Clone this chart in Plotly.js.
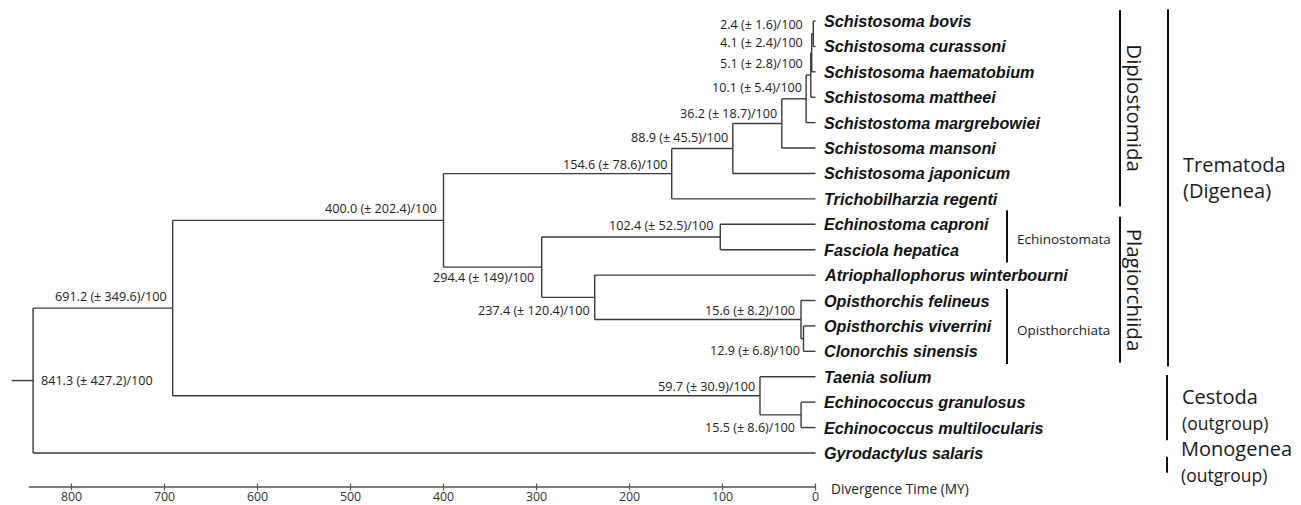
<!DOCTYPE html>
<html>
<head>
<meta charset="utf-8">
<script src="https://cdn.plot.ly/plotly-3.0.1.min.js"></script>
<style>html,body{margin:0;padding:0;background:#fff;}#chart{width:1301px;height:505px;}</style>
</head>
<body>
<div id="chart"></div>
<script>
// ---------------- DATA ----------------
const tips = [
  "Schistosoma bovis", "Schistosoma curassoni", "Schistosoma haematobium", "Schistosoma mattheei",
  "Schistostoma margrebowiei", "Schistosoma mansoni", "Schistosoma japonicum", "Trichobilharzia regenti",
  "Echinostoma caproni", "Fasciola hepatica", "Atriophallophorus winterbourni",
  "Opisthorchis felineus", "Opisthorchis viverrini", "Clonorchis sinensis",
  "Taenia solium", "Echinococcus granulosus", "Echinococcus multilocularis", "Gyrodactylus salaris"
];
// internal nodes: divergence time (MY), ± error, support, children ("t#" tip, "n#" node)
const nodeAge     = [2.4, 4.1, 5.1, 10.1, 36.2, 88.9, 154.6, 102.4, 12.9, 15.6, 237.4, 294.4, 400.0, 15.5, 59.7, 691.2, 841.3];
const nodeErr     = [1.6, 2.4, 2.8, 5.4, 18.7, 45.5, 78.6, 52.5, 6.8, 8.2, 120.4, 149, 202.4, 8.6, 30.9, 349.6, 427.2];
const nodeSupport = [100, 100, 100, 100, 100, 100, 100, 100, 100, 100, 100, 100, 100, 100, 100, 100, 100];
const nodeKids = [
  ["t0","t1"], ["n0","t2"], ["n1","t3"], ["n2","t4"], ["n3","t5"], ["n4","t6"], ["n5","t7"],
  ["t8","t9"], ["t12","t13"], ["t11","n8"], ["t10","n9"], ["n7","n10"], ["n6","n11"],
  ["t15","t16"], ["t14","n13"], ["n12","n14"], ["n15","t17"]
];
const tickVals = [800, 700, 600, 500, 400, 300, 200, 100, 0];
const axisTitle = "Divergence Time (MY)";
// clade bars: name, subtitle, first tip, last tip
const cladeNames = ["Echinostomata", "Opisthorchiata", "Diplostomida", "Plagiorchiida", "Trematoda", "Cestoda", "Monogenea"];
const cladeSub   = ["", "", "", "", "(Digenea)", "(outgroup)", "(outgroup)"];
const cladeFirst = [8, 11, 0, 8, 0, 14, 17];
const cladeLast  = [9, 13, 7, 13, 13, 16, 17];

// ---------------- LAYOUT GEOMETRY (style) ----------------
const W = 1301, H = 505, PLOT_BOTTOM = 487;
const X0PX = 815.5, PX_PER_MY = 0.93;
const Y0PX = 21, PX_PER_TIP = 25.41;
const xLeft = X0PX / PX_PER_MY, xRight = -(W - X0PX) / PX_PER_MY;
const yTop = -Y0PX / PX_PER_TIP, yBot = (PLOT_BOTTOM - Y0PX) / PX_PER_TIP;
const ROOT_STUB = 23, AXIS_START = 846;
const LINE = "#3a3a3a";
const FONT = "Open Sans, sans-serif";
// label offsets (px) for node labels: [xanchor, xshift, yshift]
const labelPlace = [
  ["right",-8,9], ["right",-7,10], ["right",-6,12], ["right",-2,11], ["right",-3,10], ["right",-3,11], ["right",-3,9],
  ["right",-5,11], ["right",-2,-12], ["right",-4,9], ["right",-3,-13], ["right",-6,-10], ["right",-5,12],
  ["right",-4,-13], ["right",-3,9], ["right",-4,12], ["left",6,0]
];

// ---------------- TREE COMPUTATION ----------------
function yOf(id) {
  if (id[0] === "t") return +id.slice(1);
  const ys = nodeKids[+id.slice(1)].map(yOf);
  return (Math.min(...ys) + Math.max(...ys)) / 2;
}
function ageOf(id) { return id[0] === "t" ? 0 : nodeAge[+id.slice(1)]; }

const lx = [], ly = [];
nodeKids.forEach((kids, i) => {
  const a = nodeAge[i];
  const ys = kids.map(yOf);
  lx.push(a, a, null); ly.push(Math.min(...ys), Math.max(...ys), null);
  kids.forEach((c, j) => { lx.push(a, ageOf(c), null); ly.push(ys[j], ys[j], null); });
});
const rootIdx = nodeAge.length - 1;
const rootY = yOf("n" + rootIdx);
lx.push(nodeAge[rootIdx] + ROOT_STUB, nodeAge[rootIdx], null); ly.push(rootY, rootY, null);

const traces = [{
  x: lx, y: ly, type: "scatter", mode: "lines",
  line: {color: LINE, width: 1.4}, hoverinfo: "skip", showlegend: false
}];

const ann = [];
// tip labels
tips.forEach((t, i) => ann.push({
  x: 0, y: i, xref: "x", yref: "y", text: t, showarrow: false,
  xanchor: "left", yanchor: "middle", xshift: 6,
  font: {family: "Liberation Sans, Arial, sans-serif", size: 16.2, color: "#111", weight: "bold", style: "italic"}
}));
// node labels
nodeAge.forEach((a, i) => {
  const p = labelPlace[i];
  ann.push({
    x: a, y: yOf("n" + i), xref: "x", yref: "y",
    text: a.toFixed(1) + " (± " + nodeErr[i] + ")/" + nodeSupport[i],
    showarrow: false, xanchor: p[0], yanchor: "middle", xshift: p[1], yshift: p[2],
    font: {family: FONT, size: 12.6, color: "#222"}
  });
});
// axis title
ann.push({x: 829 / W, y: 1 - 488 / PLOT_BOTTOM, xref: "paper", yref: "paper", text: axisTitle, showarrow: false,
  xanchor: "left", yanchor: "middle", font: {family: FONT, size: 13.7, color: "#222"}});

const shapes = [];
// axis line and ticks
shapes.push({type: "line", xref: "x", yref: "paper", x0: AXIS_START, x1: 0, y0: 0, y1: 0,
  line: {color: "#555", width: 1.6}});
tickVals.forEach(v => shapes.push({type: "line", xref: "x", yref: "paper", ysizemode: "pixel", yanchor: 0,
  x0: v, x1: v, y0: -3.5, y1: 3.5, line: {color: "#555", width: 1.2}}));

// clade bars and labels (px positions and sizes are style)
const cladeBarPx = [1007, 1007, 1120, 1120, 1168, 1167, 1167];
const cladePad = [[-0.55, 0.5], [-0.45, 0.5], [-0.43, 0.3], [-0.3, 0.45], [-0.46, 0.6], [-0.07, 0.5], [0.15, 0.78]];
const cladeStyle = [
  {dx: 8, anchor: "left", size: 13.5, angle: 0, dy: 3},
  {dx: 8, anchor: "left", size: 13.5, angle: 0, dy: 3},
  {dx: 15, anchor: "center", size: 20.5, angle: 90, dy: 0},
  {dx: 15, anchor: "center", size: 20.5, angle: 90, dy: 0},
  {dx: 13, anchor: "left", size: 20, angle: 0, dy: 0, cy: 177},
  {dx: 13, anchor: "left", size: 20, angle: 0, dy: 0, cy: 409, sub: 17.5},
  {dx: 12, anchor: "left", size: 20, angle: 0, dy: 0, cy: 461, sub: 17.5}
];
cladeNames.forEach((name, i) => {
  const y0 = cladeFirst[i] + cladePad[i][0], y1 = cladeLast[i] + cladePad[i][1];
  const xp = cladeBarPx[i] / W;
  shapes.push({type: "line", xref: "paper", yref: "y", x0: xp, x1: xp, y0: y0, y1: y1,
    line: {color: "#111", width: 2}});
  const cs = cladeStyle[i];
  if (!cladeSub[i]) {
    ann.push({x: (cladeBarPx[i] + cs.dx) / W, y: (y0 + y1) / 2, xref: "paper", yref: "y",
      text: name, showarrow: false, textangle: cs.angle, xanchor: cs.anchor, yanchor: "middle", yshift: -cs.dy,
      font: {family: FONT, size: cs.size, color: "#1a1a1a"}});
  } else {
    const subTxt = cs.sub ? '<span style="font-size:' + cs.sub + 'px">' + cladeSub[i] + '</span>' : cladeSub[i];
    ann.push({x: (cladeBarPx[i] + cs.dx) / W, y: 1 - cs.cy / PLOT_BOTTOM, xref: "paper", yref: "paper",
      text: name + "<br>" + subTxt, showarrow: false, align: "left", xanchor: "left", yanchor: "middle",
      font: {family: FONT, size: cs.size, color: "#1a1a1a"}});
  }
});

const layout = {
  width: W, height: H,
  margin: {l: 0, r: 0, t: 0, b: H - PLOT_BOTTOM, pad: 0},
  paper_bgcolor: "#fff", plot_bgcolor: "#fff",
  showlegend: false,
  xaxis: {range: [xLeft, xRight], tickmode: "array", tickvals: tickVals, ticktext: tickVals.map(String),
    showgrid: false, zeroline: false, showline: false, ticks: "", ticklabelstandoff: 1,
    tickfont: {family: FONT, size: 12.4, color: "#333"}, fixedrange: true},
  yaxis: {range: [yBot, yTop], visible: false, showgrid: false, zeroline: false, fixedrange: true},
  annotations: ann, shapes: shapes
};
Plotly.newPlot("chart", traces, layout, {staticPlot: true, displayModeBar: false});
</script>
</body>
</html>
